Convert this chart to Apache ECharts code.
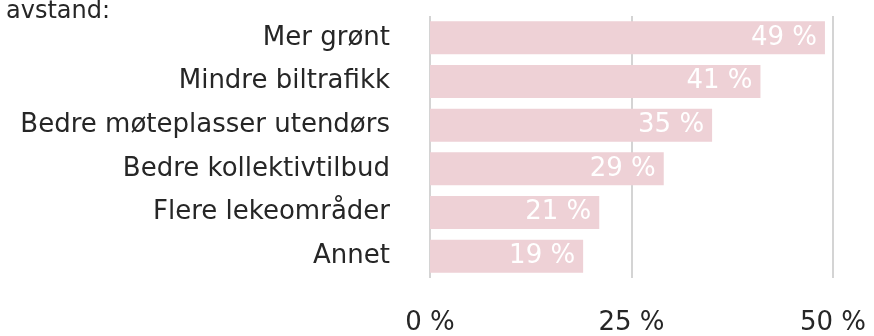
<!DOCTYPE html>
<html>
<head>
<meta charset="utf-8">
<script src="https://cdn.jsdelivr.net/npm/echarts@6/dist/echarts.min.js"></script>
<style>
  html, body { margin: 0; padding: 0; background: #fff; }
  #chart { width: 874px; height: 336px; }
</style>
</head>
<body>
<div id="chart"></div>
<script>
// Ønsker for nærområdet, andel svar i prosent
const categories = [
  'Mer grønt',
  'Mindre biltrafikk',
  'Bedre møteplasser utendørs',
  'Bedre kollektivtilbud',
  'Flere lekeområder',
  'Annet'
];
const shares = [49, 41, 35, 29, 21, 19];
const tickValues = [0, 25, 50];
const headingText = 'avstand:';

const FONT = '"DejaVu Sans", sans-serif';
const TEXT_COLOR = '#262626';
const chart = echarts.init(document.getElementById('chart'), null, { renderer: 'canvas' });

chart.setOption({
  animation: false,
  backgroundColor: '#ffffff',
  textStyle: { fontFamily: FONT },
  title: {
    text: headingText,
    left: 6,
    top: 0,
    padding: 0,
    textStyle: { fontFamily: FONT, fontSize: 24, fontWeight: 'normal', color: TEXT_COLOR }
  },
  grid: { left: 430, right: 41, top: 16, bottom: 56, containLabel: false },
  xAxis: {
    type: 'value',
    min: tickValues[0],
    max: tickValues[tickValues.length - 1],
    interval: tickValues[1] - tickValues[0],
    axisLine: { show: false },
    axisTick: { show: false },
    splitLine: { show: true, lineStyle: { color: '#c6c6c6', width: 1.5 } },
    axisLabel: {
      formatter: '{value} %',
      fontFamily: FONT,
      fontSize: 26,
      color: TEXT_COLOR,
      margin: 32
    }
  },
  yAxis: {
    type: 'category',
    inverse: true,
    data: categories,
    axisLine: { show: false },
    axisTick: { show: false },
    splitLine: { show: false },
    axisLabel: {
      fontFamily: FONT,
      fontSize: 26,
      color: TEXT_COLOR,
      margin: 40
    }
  },
  series: [{
    type: 'bar',
    data: shares,
    barWidth: 33,
    itemStyle: { color: '#eed1d6' },
    label: {
      show: true,
      position: 'insideRight',
      distance: 8,
      formatter: '{c} %',
      fontFamily: FONT,
      fontSize: 26,
      color: '#ffffff'
    }
  }]
});
</script>
</body>
</html>
